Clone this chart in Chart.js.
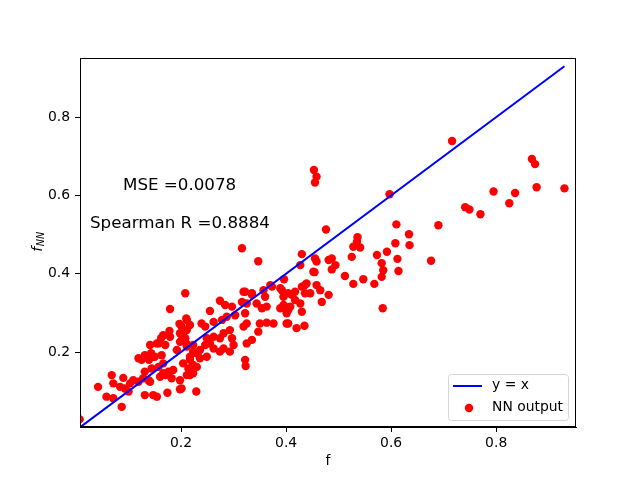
<!DOCTYPE html>
<html>
<head>
<meta charset="utf-8">
<script src="https://cdn.jsdelivr.net/npm/chart.js@4.4.1/dist/chart.umd.min.js"></script>
<style>
  html, body { margin: 0; padding: 0; background: #fff; }
  canvas { display: block; }
</style>
</head>
<body>
<canvas id="scatterNN" width="640" height="480"></canvas>
<script>
// f (true value) and f_NN (network output)
const fValues = [
  0.179, 0.210, 0.197, 0.211, 0.204, 0.178, 0.162, 0.157, 0.170, 0.198,
  0.210, 0.143, 0.150, 0.139, 0.119, 0.163, 0.192, 0.185, 0.182, 0.068,
  0.090, 0.071, 0.042, 0.058, 0.071, 0.087, 0.103, 0.109, 0.131, 0.147,
  0.154, 0.174, 0.198, 0.007, 0.084, 0.093, 0.100, 0.119, 0.128, 0.138,
  0.131, 0.144, 0.157, 0.166, 0.160, 0.170, 0.141, 0.176, 0.198, 0.211,
  0.229, 0.166, 0.220, 0.230, 0.204, 0.217, 0.230, 0.246, 0.223, 0.208,
  0.198, 0.179, 0.166, 0.154, 0.141, 0.131, 0.125, 0.147,
  0.208, 0.255, 0.274, 0.284, 0.297, 0.322, 0.335, 0.316, 0.325, 0.344,
  0.354, 0.363, 0.360, 0.373, 0.389, 0.395, 0.404, 0.389, 0.401, 0.398,
  0.211, 0.217, 0.201, 0.239, 0.246, 0.262, 0.278, 0.287, 0.322, 0.325,
  0.319, 0.303, 0.350, 0.363, 0.376, 0.401, 0.347, 0.335, 0.325, 0.293,
  0.297, 0.281, 0.274, 0.262, 0.249, 0.255, 0.262, 0.274, 0.293, 0.300,
  0.281, 0.236, 0.249, 0.236, 0.223, 0.211, 0.201, 0.217, 0.223, 0.214,
  0.223, 0.322, 0.323, 0.201, 0.217,
  0.535, 0.528, 0.541, 0.525, 0.430, 0.427, 0.455, 0.458, 0.487, 0.494,
  0.487, 0.452, 0.573, 0.592, 0.582, 0.585, 0.582, 0.512, 0.528, 0.547,
  0.568, 0.396, 0.392, 0.439, 0.430, 0.417, 0.411, 0.458, 0.465, 0.446,
  0.436, 0.481, 0.468, 0.417, 0.427, 0.408, 0.395, 0.430, 0.404, 0.404,
  0.420, 0.435, 0.584,
  0.597, 0.610, 0.634, 0.635, 0.608, 0.612, 0.614, 0.676, 0.690, 0.741,
  0.749, 0.770, 0.795, 0.836, 0.825, 0.877, 0.930, 0.868, 0.874, 0.716,
  0.316, 0.347, 0.476, 0.454, 0.370, 0.357, 0.436, 0.319, 0.335, 0.481,
  0.536, 0.453, 0.458, 0.455
]
const fnnValues = [
  0.310, 0.286, 0.272, 0.256, 0.248, 0.254, 0.235, 0.222, 0.218, 0.226,
  0.222, 0.197, 0.188, 0.180, 0.184, 0.192, 0.205, 0.154, 0.133, 0.141,
  0.134, 0.120, 0.111, 0.086, 0.082, 0.060, 0.120, 0.128, 0.090, 0.090,
  0.086, 0.096, 0.105, 0.028, 0.111, 0.107, 0.099, 0.124, 0.133, 0.128,
  0.150, 0.158, 0.162, 0.171, 0.137, 0.141, 0.124, 0.150, 0.128, 0.141,
  0.099, 0.146, 0.150, 0.162, 0.171, 0.188, 0.197, 0.218, 0.218, 0.235,
  0.248, 0.239, 0.243, 0.222, 0.218, 0.192, 0.180, 0.188,
  0.350, 0.305, 0.331, 0.320, 0.316, 0.354, 0.350, 0.328, 0.324, 0.324,
  0.312, 0.316, 0.341, 0.367, 0.363, 0.341, 0.350, 0.312, 0.299, 0.316,
  0.282, 0.269, 0.265, 0.273, 0.265, 0.277, 0.282, 0.290, 0.299, 0.273,
  0.265, 0.294, 0.273, 0.275, 0.273, 0.273, 0.252, 0.231, 0.222, 0.256,
  0.235, 0.248, 0.235, 0.239, 0.235, 0.222, 0.209, 0.201, 0.201, 0.218,
  0.209, 0.205, 0.188, 0.184, 0.201, 0.214, 0.231, 0.180, 0.167, 0.158,
  0.146, 0.180, 0.164, 0.107, 0.141,
  0.482, 0.469, 0.467, 0.443, 0.450, 0.422, 0.439, 0.431, 0.439, 0.422,
  0.411, 0.405, 0.448, 0.456, 0.427, 0.409, 0.392, 0.394, 0.374, 0.386,
  0.374, 0.386, 0.358, 0.375, 0.367, 0.354, 0.346, 0.371, 0.358, 0.350,
  0.350, 0.346, 0.328, 0.333, 0.324, 0.316, 0.320, 0.303, 0.307, 0.273,
  0.261, 0.267, 0.312,
  0.603, 0.526, 0.501, 0.473, 0.478, 0.438, 0.407, 0.433, 0.524, 0.570,
  0.564, 0.552, 0.610, 0.606, 0.580, 0.621, 0.618, 0.693, 0.680, 0.739,
  0.465, 0.432, 0.513, 0.404, 0.371, 0.358, 0.371, 0.354, 0.346, 0.435,
  0.493, 0.665, 0.648, 0.633
]

const xTickValues = [0.2, 0.4, 0.6, 0.8]
const xTickLabels = ['0.2', '0.4', '0.6', '0.8']
const yTickValues = [0.2, 0.4, 0.6, 0.8]
const yTickLabels = ['0.2', '0.4', '0.6', '0.8']
const xRange = [0.0076, 0.952]
const yRange = [0.0085, 0.951]

const mseText = 'MSE =0.0078'
const spearmanText = 'Spearman R =0.8884'

const FONT = "'DejaVu Sans', sans-serif"

let points = []
fValues.forEach((f, i) => {
  points.push({ x: f, y: fnnValues[i] })
})
const fMin = Math.min(...fValues)
const fMax = Math.max(...fValues)

const framePlugin = {
  id: 'frame',
  afterDraw(chart) {
    const ctx = chart.ctx
    const a = chart.chartArea
    ctx.save()
    ctx.strokeStyle = '#000'
    ctx.lineWidth = 1
    ctx.strokeRect(a.left + 0.5, a.top + 0.5, a.right - a.left - 1, a.bottom - a.top - 1)

    // annotations
    ctx.fillStyle = '#000'
    ctx.font = '16.7px ' + FONT
    ctx.textBaseline = 'middle'
    ctx.textAlign = 'left'
    ctx.fillText(mseText, 123, 186)
    ctx.fillText(spearmanText, 90, 224)

    // x label
    ctx.font = '13.9px ' + FONT
    ctx.textAlign = 'center'
    ctx.fillText('f', (a.left + a.right) / 2, 461)

    // y label f_NN
    ctx.save()
    ctx.translate(38, 242)
    ctx.rotate(-Math.PI / 2)
    ctx.textAlign = 'left'
    ctx.font = 'italic 13.9px ' + FONT
    const fw = ctx.measureText('f').width
    ctx.font = 'italic 9.7px ' + FONT
    const nw = ctx.measureText('NN').width
    const start = -(fw + nw) / 2
    ctx.font = 'italic 13.9px ' + FONT
    ctx.fillText('f', start, 0)
    ctx.font = 'italic 9.7px ' + FONT
    ctx.fillText('NN', start + fw + 0.5, 3)
    ctx.restore()

    // legend
    const lx = 448.5, ly = 374.5, lw = 120, lh = 46, r = 3
    ctx.beginPath()
    ctx.moveTo(lx + r, ly)
    ctx.arcTo(lx + lw, ly, lx + lw, ly + lh, r)
    ctx.arcTo(lx + lw, ly + lh, lx, ly + lh, r)
    ctx.arcTo(lx, ly + lh, lx, ly, r)
    ctx.arcTo(lx, ly, lx + lw, ly, r)
    ctx.closePath()
    ctx.fillStyle = 'rgba(255,255,255,0.8)'
    ctx.fill()
    ctx.strokeStyle = '#d6d6d6'
    ctx.stroke()

    ctx.strokeStyle = '#0000ff'
    ctx.lineWidth = 2
    ctx.beginPath()
    ctx.moveTo(453, 386)
    ctx.lineTo(482, 386)
    ctx.stroke()
    ctx.fillStyle = '#ff0000'
    ctx.beginPath()
    ctx.arc(469, 408, 4.2, 0, Math.PI * 2)
    ctx.fill()

    ctx.fillStyle = '#000'
    ctx.font = '13.9px ' + FONT
    ctx.textAlign = 'left'
    ctx.textBaseline = 'middle'
    ctx.fillText('y = x', 492, 385)
    ctx.fillText('NN output', 492, 407)
    ctx.restore()
  }
}

new Chart('scatterNN', {
  type: 'scatter',
  data: {
    datasets: [
      {
        type: 'line',
        label: 'y = x',
        data: [{ x: fMin, y: fMin }, { x: fMax, y: fMax }],
        borderColor: '#0000ff',
        borderWidth: 2,
        pointRadius: 0,
        fill: false,
        clip: 0
      },
      {
        label: 'NN output',
        data: points,
        backgroundColor: '#ff0000',
        borderWidth: 0,
        pointRadius: 4.2,
        clip: 0
      }
    ]
  },
  options: {
    responsive: false,
    animation: false,
    events: [],
    layout: { padding: { top: 58, right: 64, left: 0, bottom: 0 } },
    plugins: {
      legend: { display: false },
      title: { display: false },
      tooltip: { enabled: false }
    },
    scales: {
      x: {
        type: 'linear',
        min: xRange[0],
        max: xRange[1],
        afterFit: (s) => { s.height = 53 },
        afterBuildTicks: (s) => { s.ticks = xTickValues.map(v => ({ value: v })) },
        ticks: {
          color: '#000',
          font: { family: FONT, size: 13.9 },
          padding: 3,
          maxRotation: 0,
          callback: (v) => xTickLabels[xTickValues.indexOf(v)]
        },
        grid: { drawOnChartArea: false, drawTicks: true, tickLength: 5, color: '#000' },
        border: { display: true, color: '#000' }
      },
      y: {
        type: 'linear',
        min: yRange[0],
        max: yRange[1],
        afterFit: (s) => { s.width = 80 },
        afterBuildTicks: (s) => { s.ticks = yTickValues.map(v => ({ value: v })) },
        ticks: {
          color: '#000',
          font: { family: FONT, size: 13.9 },
          padding: 5,
          callback: (v) => yTickLabels[yTickValues.indexOf(v)]
        },
        grid: { drawOnChartArea: false, drawTicks: true, tickLength: 5, color: '#000' },
        border: { display: true, color: '#000' }
      }
    }
  },
  plugins: [framePlugin]
})
</script>
</body>
</html>
